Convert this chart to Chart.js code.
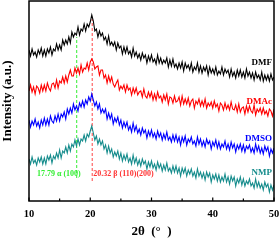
<!DOCTYPE html>
<html><head><meta charset="utf-8">
<script src="https://cdn.jsdelivr.net/npm/chart.js@4/dist/chart.umd.min.js"></script>
<style>html,body{margin:0;padding:0;background:#fff}#w{width:280px;height:241px}</style>
</head><body><div id="w"><canvas id="c" width="280" height="241"></canvas></div>
<script>
const xStart = 10, xStep = 0.25;
const dmf = [151,145,152,146,149,144,151,147,153,145,151,145,152,148,154,146,152,150,157,151,156,151,161,156,161,157,164,158,169,164,168,166,174,166,172,170,177,170,177,174,179,186,180,170,172,164,170,165,168,161,164,157,165,156,159,155,159,151,158,153,155,147,154,148,154,147,150,144,153,145,149,143,147,141,148,143,146,138,145,140,146,139,142,137,146,138,143,137,141,138,143,134,141,135,142,134,137,132,138,133,139,130,138,133,136,131,138,129,134,131,138,129,135,128,134,130,135,126,134,128,132,127,134,126,130,127,134,126,132,128,131,124,132,125,129,123,131,125,131,124,129,123,132,125,129,123,128,121,129,123,126,121,129,120,126,121,126,120,127,121,124];
const dmac = [110,116,109,114,107,115,113,108,116,110,116,110,118,113,110,117,118,113,121,113,120,118,124,118,125,119,126,131,125,125,133,128,133,127,136,129,133,132,138,131,139,142,139,132,134,135,126,131,131,123,126,118,125,119,124,117,114,118,121,111,115,112,116,109,116,111,113,106,113,108,113,106,109,110,104,112,105,103,109,104,109,101,107,101,109,103,105,99,106,101,107,97,104,103,98,105,99,100,104,96,105,97,102,97,103,95,100,102,93,100,97,102,95,100,95,102,93,98,95,99,93,100,94,97,90,98,96,91,98,92,96,91,99,92,91,96,89,97,89,93,94,87,95,89,95,90,88,96,86,92,89,93,87,93,87,90,85,92,90,85,92];
const dmso = [81,74,80,76,82,75,79,73,81,76,83,76,82,76,85,80,78,85,80,87,80,87,84,89,82,92,87,93,88,97,91,95,90,98,94,100,94,101,97,104,100,107,101,95,99,92,97,88,92,88,92,82,88,82,87,77,83,79,84,76,81,73,79,74,79,71,75,69,78,70,75,68,72,66,73,68,71,63,70,65,71,64,68,62,70,64,68,61,67,62,69,61,64,59,66,60,66,59,64,56,64,59,65,56,62,59,64,57,60,55,64,57,62,55,60,54,62,57,60,52,59,55,61,53,59,52,57,54,60,52,57,51,59,53,57,49,56,52,57,50,56,49,55,52,56,49,53,48,57,50,55,48,53,47,55,50,54,45,52,48,53];
const nmp = [42,37,44,38,41,36,43,39,44,37,43,37,45,41,46,38,45,42,48,43,51,43,50,48,54,48,56,50,57,54,61,55,62,56,62,60,66,60,67,64,70,75,68,61,65,57,62,56,60,52,56,48,55,48,52,44,49,45,50,42,48,40,46,41,47,39,43,37,46,38,43,36,41,35,42,37,40,32,39,34,40,33,37,31,39,33,37,30,36,31,38,30,33,28,35,29,35,28,33,25,33,28,33,25,31,27,32,25,29,23,32,25,29,23,28,21,29,24,28,19,26,22,27,20,26,19,24,20,27,19,24,17,25,20,24,15,22,18,24,16,22,15,20,17,22,15,18,13,22,14,19,13,17,11,19,14,17,9,16,11,16];
const seriesNames = ["DMF","DMAc","DMSO","NMP"];
const seriesColors = ["#000000","#ff0000","#0000ff","#158c8c"];
const peakAlpha = [17.79, 23, 164];
const peakBeta = [20.32, 20, 182];
const xTicks = [10,20,30,40,50];

const FONT = "'Liberation Serif','Times New Roman',serif";
function pts(arr){return arr.map((v,i)=>({x:xStart+i*xStep,y:v}));}

const frame = {
  id:'frame',
  afterDraw(ch){
    const c=ch.ctx, a=ch.chartArea, xs=ch.scales.x, ys=ch.scales.y;
    c.save();
    c.strokeStyle='#000'; c.lineWidth=1.5;
    c.strokeRect(a.left,a.top,a.right-a.left,a.bottom-a.top);
    c.lineWidth=1.2;
    for(let t=10;t<=50;t+=5){
      const px=xs.getPixelForValue(t);
      const len = (t%10===0)?3.5:2.5;
      c.beginPath();c.moveTo(px,a.bottom);c.lineTo(px,a.bottom-len);c.stroke();
    }
    const lab=[[138,0],[99,1],[62,2],[28,3]];
    c.font="bold 9px "+FONT; c.textAlign='right'; c.textBaseline='middle';
    lab.forEach(([v,i])=>{c.fillStyle=seriesColors[i];c.fillText(seriesNames[i],a.right-2,ys.getPixelForValue(v));});
    c.font="bold 8px "+FONT; c.textAlign='left';
    c.fillStyle='#33ee33';
    c.fillText("17.79 α (100)", xs.getPixelForValue(11.3), ys.getPixelForValue(27));
    c.fillStyle='#ff3333';
    c.fillText("20.32 β (110)(200)", xs.getPixelForValue(20.5), ys.getPixelForValue(27));
    c.restore();
  }
};

new Chart(document.getElementById('c'),{
  type:'line',
  data:{datasets:[
    {data:pts(dmf),borderColor:seriesColors[0],borderWidth:1.1,pointRadius:0,tension:0},
    {data:pts(dmac),borderColor:seriesColors[1],borderWidth:1.1,pointRadius:0,tension:0},
    {data:pts(dmso),borderColor:seriesColors[2],borderWidth:1.1,pointRadius:0,tension:0},
    {data:pts(nmp),borderColor:seriesColors[3],borderWidth:1.1,pointRadius:0,tension:0},
    {data:[{x:peakAlpha[0],y:peakAlpha[1]},{x:peakAlpha[0],y:peakAlpha[2]}],borderColor:'#33ee33',borderWidth:1,borderDash:[3,2],pointRadius:0},
    {data:[{x:peakBeta[0],y:peakBeta[1]},{x:peakBeta[0],y:peakBeta[2]}],borderColor:'#ff4444',borderWidth:1,borderDash:[3,2],pointRadius:0}
  ]},
  options:{
    responsive:false,animation:false,
    layout:{padding:{top:1,right:6,left:0,bottom:0}},
    plugins:{legend:{display:false},tooltip:{enabled:false}},
    scales:{
      x:{type:'linear',min:10,max:50,
        afterBuildTicks(s){s.ticks=xTicks.map(v=>({value:v}));},
        afterFit(s){s.height=40;},
        grid:{display:false},border:{display:false},
        ticks:{color:'#000',font:{family:FONT,weight:'bold',size:10.5},padding:-1,maxRotation:0},
        title:{display:true,text:'2θ  (°  )',color:'#000',font:{family:FONT,weight:'bold',size:13},padding:{top:2,bottom:2}}},
      y:{min:0,max:200,
        afterFit(s){s.width=29;},
        grid:{display:false},border:{display:false},
        ticks:{display:false},
        title:{display:true,text:'Intensity (a.u.)',color:'#000',font:{family:FONT,weight:'bold',size:13},padding:{top:0,bottom:3}}}
    }
  },
  plugins:[frame]
});
</script></body></html>
